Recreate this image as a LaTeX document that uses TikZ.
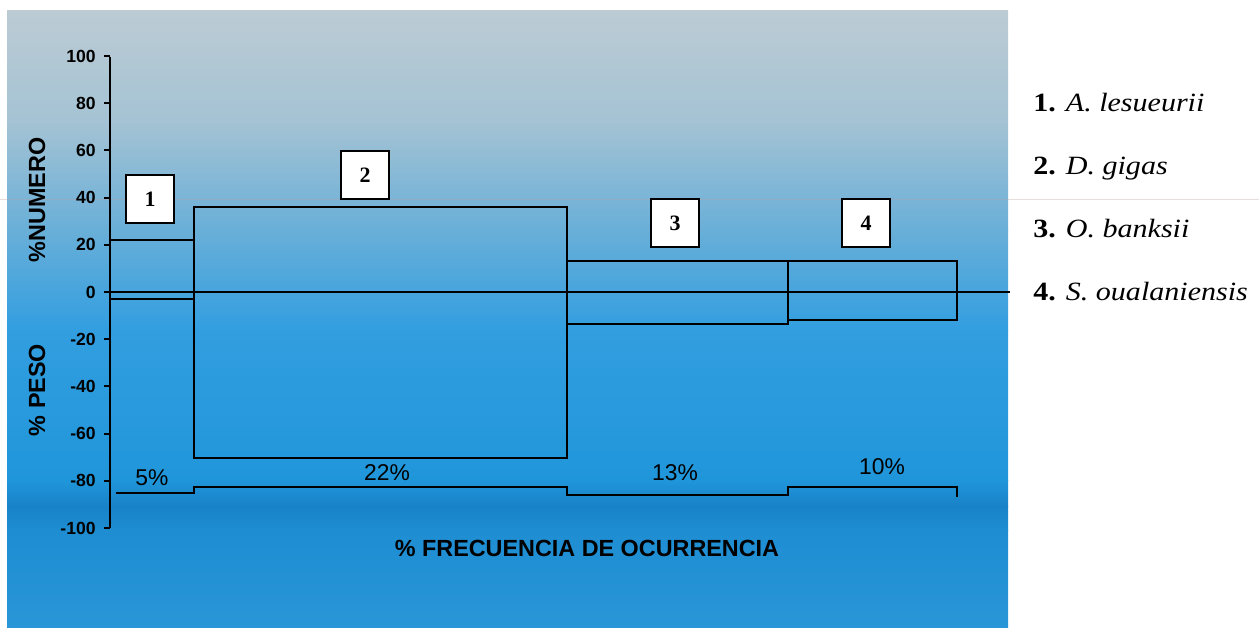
\documentclass[tikz,border=0pt]{standalone}
\usepackage{fontspec}
\setmainfont{Liberation Sans}
\newfontfamily\legendfont{Liberation Serif}
\usetikzlibrary{calc}

\definecolor{paneltop}{RGB}{188,203,212}
\definecolor{panelA}{RGB}{165,195,212}
\definecolor{panelB}{RGB}{105,175,216}
\definecolor{panelC}{RGB}{50,158,224}
\definecolor{panelD}{RGB}{32,150,218}
\definecolor{panelband}{RGB}{24,130,200}
\definecolor{panelE}{RGB}{30,141,210}
\definecolor{panelbot}{RGB}{40,150,215}

\begin{document}
\begin{tikzpicture}[x=0.02cm, y=-0.02cm,
    bar/.style={line width=1.1pt},
    tag/.style={draw, line width=1pt, fill=white, minimum size=0.96cm, inner sep=0pt,
      font=\legendfont\fontsize{12.5}{12.5}\selectfont\bfseries},
    ticklab/.style={anchor=east, inner sep=0pt, font=\fontsize{10}{10}\selectfont\bfseries},
    pct/.style={inner sep=0pt, font=\fontsize{13}{13}\selectfont},
    axtitle/.style={inner sep=0pt, font=\fontsize{13.3}{13.3}\selectfont\bfseries},
    leg/.style={anchor=base west, inner sep=0pt, font=\legendfont\fontsize{15}{15}\selectfont}]

		\useasboundingbox (0,0) rectangle (1259,627);
		\fill[white] (0,0) rectangle (1259,627);

		\shade[top color=paneltop, bottom color=panelA] (7,10) rectangle (1008,120);
		\shade[top color=panelA, bottom color=panelB] (7,120) rectangle (1008,230);
		\shade[top color=panelB, bottom color=panelC] (7,230) rectangle (1008,330);
		\shade[top color=panelC, bottom color=panelD] (7,330) rectangle (1008,480);
		\shade[top color=panelD, bottom color=panelband] (7,480) rectangle (1008,506);
		\shade[top color=panelband, bottom color=panelE] (7,506) rectangle (1008,530);
		\shade[top color=panelE, bottom color=panelbot] (7,530) rectangle (1008,627);
		\draw[pink!50!gray, opacity=0.35, line width=0.4pt] (0,199) -- (1259,199);

		\coordinate (ytop) at (110,57);
		\coordinate (ybot) at (110,528);
		\coordinate (zl) at (110,292);
		\coordinate (zr) at (1010,292);

		\draw[bar] (ytop) -- (ybot);
		\foreach \v in {-100,-80,...,100} {
			\draw[bar] (104,{292-2.36*\v}) -- (110,{292-2.36*\v});
			\node[ticklab] at (96,{292-2.36*\v}) {\v};
		}

		\coordinate (b1a) at (110,240);
		\coordinate (b1b) at (194,299);
		\coordinate (b2a) at (194,207);
		\coordinate (b2b) at (567,458);
		\coordinate (b3a) at (567,261);
		\coordinate (b3b) at (788,324);
		\coordinate (b4a) at (788,261);
		\coordinate (b4b) at (957,320);

		\draw[bar] (b1a) rectangle (b1b);
		\draw[bar] (b2a) rectangle (b2b);
		\draw[bar] (b3a) rectangle (b3b);
		\draw[bar] (b4a) rectangle (b4b);
		\draw[bar] (zl) -- (zr);

		\draw[bar] (116,493) -- (194,493) -- (194,487) -- (567,487) -- (567,495)
			-- (788,495) -- (788,487) -- (957,487) -- (957,497);

		\node[tag] (t1) at (150,199) {1};
		\node[tag] (t2) at (365,175) {2};
		\node[tag] (t3) at (675,223) {3};
		\node[tag] (t4) at (866,223) {4};

		\node[pct] (p1) at (152,478) {5\%};
		\node[pct] (p2) at (387,473) {22\%};
		\node[pct] (p3) at (675,473) {13\%};
		\node[pct] (p4) at (882,467) {10\%};

		\node[axtitle, rotate=90] (ynum) at (37,200) {\%NUMERO};
		\node[axtitle, rotate=90] (ypeso) at (37,390) {\% PESO};
		\node[axtitle] (xfreq) at (587,548) {\% FRECUENCIA DE OCURRENCIA};

		\node[leg] (l1) at (1033,111) {\scalebox{1.14}[1]{\textbf{1.} \textit{A. lesueurii}}};
		\node[leg] (l2) at (1033,174) {\scalebox{1.14}[1]{\textbf{2.} \textit{D. gigas}}};
		\node[leg] (l3) at (1033,237) {\scalebox{1.14}[1]{\textbf{3.} \textit{O. banksii}}};
		\node[leg] (l4) at (1033,300) {\scalebox{1.14}[1]{\textbf{4.} \textit{S. oualaniensis}}};
	\end{tikzpicture}
\end{document}
